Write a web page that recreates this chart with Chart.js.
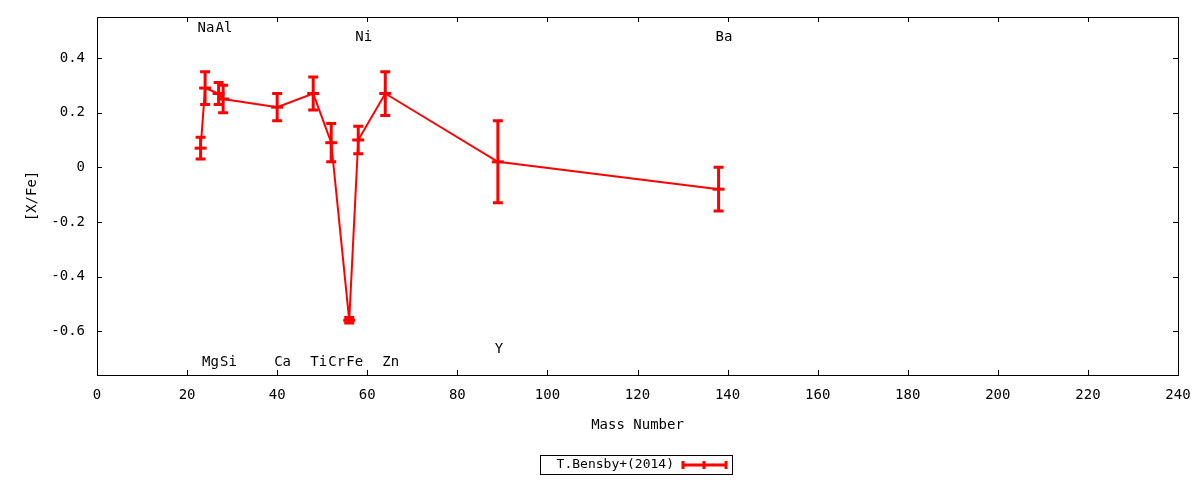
<!DOCTYPE html>
<html>
<head>
<meta charset="utf-8">
<script src="https://cdn.jsdelivr.net/npm/chart.js@4.4.1/dist/chart.umd.min.js"></script>
<style>
html, body { margin: 0; padding: 0; background: #fff; }
</style>
</head>
<body>
<canvas id="abund" width="1200" height="480"></canvas>
<script>
// abundance pattern
const elements     = ["Na", "Mg", "Al", "Si", "Ca", "Ti", "Cr", "Fe", "Ni", "Zn", "Y", "Ba"];
const massNumbers  = [23, 24, 27, 28, 40, 48, 52, 56, 58, 64, 89, 138];
const abundances   = [0.07, 0.29, 0.27, 0.25, 0.22, 0.27, 0.09, -0.56, 0.10, 0.27, 0.02, -0.08];
const errors       = [0.04, 0.06, 0.04, 0.05, 0.05, 0.06, 0.07, 0.01, 0.05, 0.08, 0.15, 0.08];
const labelHeights = [0.51, -0.715, 0.51, -0.715, -0.715, -0.715, -0.715, -0.715, 0.475, -0.715, -0.665, 0.475];
const xTicks = [0, 20, 40, 60, 80, 100, 120, 140, 160, 180, 200, 220, 240];
const yTicks = [-0.6, -0.4, -0.2, 0, 0.2, 0.4];
const seriesName = "T.Bensby+(2014)";

const RED = "#ff0000";
const FONT = "'DejaVu Sans Mono', monospace";

Chart.defaults.font.family = FONT;
Chart.defaults.font.size = 14;
Chart.defaults.color = "#000";

const points = massNumbers.map((m, i) => ({ x: m, y: abundances[i] }));

// vertical error bars with caps
const errorBars = {
    id: "errorBars",
    afterDatasetsDraw(chart) {
        const xs = chart.scales.x, ys = chart.scales.y;
        const ctx = chart.ctx;
        ctx.save();
        ctx.strokeStyle = RED;
        ctx.lineWidth = 3;
        points.forEach((p, i) => {
            const px = xs.getPixelForValue(p.x);
            const top = ys.getPixelForValue(p.y + errors[i]);
            const bot = ys.getPixelForValue(p.y - errors[i]);
            ctx.beginPath();
            ctx.moveTo(px, top); ctx.lineTo(px, bot);
            ctx.moveTo(px - 5, top); ctx.lineTo(px + 5, top);
            ctx.moveTo(px - 5, bot); ctx.lineTo(px + 5, bot);
            ctx.stroke();
        });
        ctx.restore();
    }
};

// border, inward mirrored ticks, element labels and the legend box
const frame = {
    id: "frame",
    afterDraw(chart) {
        const ctx = chart.ctx;
        const a = chart.chartArea;
        const xs = chart.scales.x, ys = chart.scales.y;
        ctx.save();
        ctx.strokeStyle = "#000";
        ctx.lineWidth = 1;
        ctx.strokeRect(Math.round(a.left) + 0.5, Math.round(a.top) + 0.5,
                       Math.round(a.right - a.left), Math.round(a.bottom - a.top));
        ctx.beginPath();
        xTicks.forEach(v => {
            const px = Math.round(xs.getPixelForValue(v)) + 0.5;
            ctx.moveTo(px, a.bottom); ctx.lineTo(px, a.bottom - 5);
            ctx.moveTo(px, a.top); ctx.lineTo(px, a.top + 5);
        });
        yTicks.forEach(v => {
            const py = Math.round(ys.getPixelForValue(v)) + 0.5;
            ctx.moveTo(a.left, py); ctx.lineTo(a.left + 5, py);
            ctx.moveTo(a.right, py); ctx.lineTo(a.right - 5, py);
        });
        ctx.stroke();

        ctx.fillStyle = "#000";
        ctx.font = "14px " + FONT;
        ctx.textAlign = "left";
        ctx.textBaseline = "middle";
        elements.forEach((el, i) => {
            ctx.fillText(el, xs.getPixelForValue(massNumbers[i]) - 3, ys.getPixelForValue(labelHeights[i]));
        });

        // legend
        ctx.strokeRect(540.5, 455.5, 192, 19);
        ctx.font = "13px " + FONT;
        ctx.textAlign = "right";
        ctx.fillText(seriesName, 674, 465);
        ctx.strokeStyle = RED;
        ctx.lineWidth = 3;
        ctx.beginPath();
        ctx.moveTo(683, 465); ctx.lineTo(726, 465);
        [683, 704, 726].forEach(x => { ctx.moveTo(x, 461); ctx.lineTo(x, 469); });
        ctx.stroke();
        ctx.restore();
    }
};

new Chart(document.getElementById("abund"), {
    type: "line",
    data: {
        datasets: [{
            label: seriesName,
            data: points,
            borderColor: RED,
            backgroundColor: RED,
            borderWidth: 2,
            pointStyle: "line",
            pointRadius: 6,
            pointBorderWidth: 3,
            pointHoverRadius: 6,
            tension: 0,
            fill: false
        }]
    },
    options: {
        responsive: false,
        animation: false,
        devicePixelRatio: 1,
        layout: { padding: { top: 17, right: 22, left: 0, bottom: 0 } },
        plugins: { legend: { display: false }, tooltip: { enabled: false } },
        scales: {
            x: {
                type: "linear",
                min: 0,
                max: 240,
                afterBuildTicks: s => { s.ticks = xTicks.map(v => ({ value: v })); },
                afterFit: s => { s.height = 105; },
                grid: { display: false },
                border: { display: false },
                ticks: { padding: 4, maxRotation: 0, autoSkip: false },
                title: { display: true, text: "Mass Number", padding: { top: 0, bottom: 46 } }
            },
            y: {
                type: "linear",
                min: -0.76,
                max: 0.55,
                afterBuildTicks: s => { s.ticks = yTicks.map(v => ({ value: v })); },
                afterFit: s => { s.width = 97; },
                grid: { display: false },
                border: { display: false },
                ticks: { padding: 4, autoSkip: false, callback: v => String(v) },
                title: { display: true, text: "[X/Fe]", padding: { top: 24, bottom: 0 } }
            }
        }
    },
    plugins: [errorBars, frame]
});
</script>
</body>
</html>
